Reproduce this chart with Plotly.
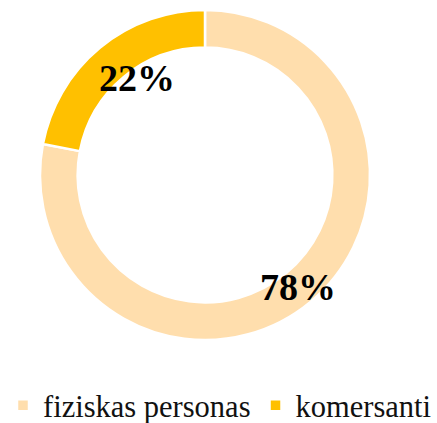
import math
import plotly.graph_objects as go

labels = ["fiziskas personas", "komersanti"]
values = [78, 22]
colors = ["#FFDEAD", "#FFC000"]
label_radius = [0.88, 0.718]
label_angle_shift = [0.0, 4.6]

W, H = 437, 423
cx, cy, R = 205, 175, 165
hole = 0.772
SERIF = "Liberation Serif"

fig = go.Figure()
fig.add_trace(go.Pie(
    labels=labels, values=values, hole=hole, sort=False, direction="clockwise",
    rotation=0, textinfo="none", hoverinfo="label+percent",
    marker=dict(colors=colors, line=dict(color="white", width=2.5)),
    domain=dict(x=[(cx - R) / W, (cx + R) / W],
                y=[(H - cy - R) / H, (H - cy + R) / H]),
))

total = sum(values)
start = 0.0
for v, rf, sh in zip(values, label_radius, label_angle_shift):
    frac = v / total
    mid = start + frac * 360 / 2
    start += frac * 360
    ang = math.radians(mid + sh)
    x = cx + R * rf * math.sin(ang)
    y = cy - R * rf * math.cos(ang)
    fig.add_annotation(
        x=x / W, y=1 - y / H, xref="paper", yref="paper", showarrow=False,
        text=f"<b>{round(frac * 100)}%</b>", xanchor="center", yanchor="middle",
        font=dict(family=SERIF, size=38, color="black"),
    )

fig.update_layout(
    width=W, height=H, margin=dict(l=0, r=0, t=0, b=0, autoexpand=False),
    paper_bgcolor="white", plot_bgcolor="white",
    showlegend=True,
    legend=dict(orientation="h", x=1, xanchor="right", y=(H - 405.5) / H, yanchor="middle",
                font=dict(family=SERIF, size=30.5, color="#111111"),
                tracegroupgap=0, borderwidth=0, bgcolor="rgba(0,0,0,0)"),
)
fig.write_html("out.html")
